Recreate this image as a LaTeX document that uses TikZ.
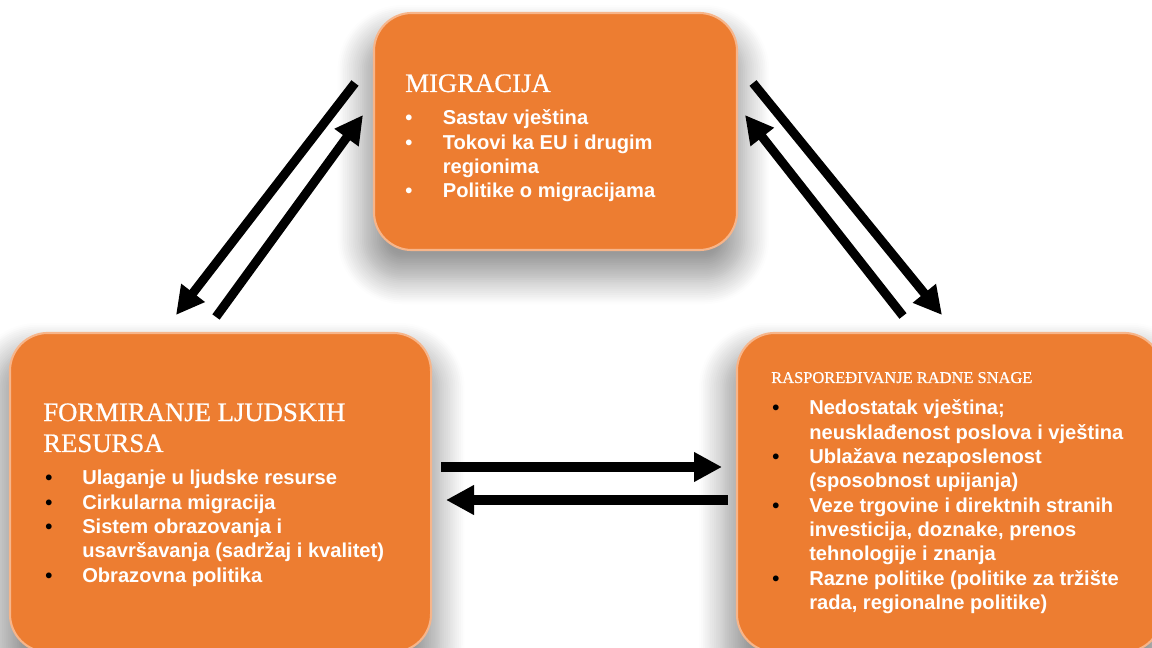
\documentclass[tikz,border=0pt]{standalone}
\usepackage{fontspec}
\setmainfont{Liberation Serif}
\setsansfont{Liberation Sans}
\newfontfamily\ttlfont{Liberation Serif}[BoldFont=Liberation Serif,BoldFeatures={FakeBold=0.7}]
\usepackage{tikz}
\usetikzlibrary{arrows.meta}
\usetikzlibrary{shadows.blur}
\definecolor{boxorange}{HTML}{ED7D31}
\definecolor{boxrim}{HTML}{F7B58A}
\tikzset{
  box/.style={
    rounded corners=0.95cm,fill=boxorange,draw=boxrim,line width=1.5pt,
    blur shadow={shadow xshift=-0.05cm,shadow yshift=-0.55cm,shadow scale=1.05,
      shadow blur radius=0.6cm,shadow blur steps=14,shadow opacity=40},
  },
  boxtitle/.style={anchor=base west,inner sep=0pt,text=white,align=left},
  items/.style={anchor=base west,inner sep=0pt,text=white,
    font=\sffamily\bfseries\fontsize{14.3}{17.3}\selectfont},
  flow/.style={line width=0.225cm,-{Triangle[length=0.7cm,width=0.7cm]}},
}
\newcommand{\dotb}{\textcolor{black}{•}}
\newcommand{\dotw}{\textcolor{white}{•}}

\begin{document}
\begin{tikzpicture}[x=0.025cm,y=-0.025cm]
  \useasboundingbox (0,0) rectangle (1152,648);
  % boxes
  \node[box,minimum width=9.075cm,minimum height=5.925cm] (mig) at (555.5,131.5) {};
  \node[box,minimum width=10.525cm,minimum height=7.975cm] (form) at (220.5,492.5) {};
  \node[box,minimum width=10.625cm,minimum height=7.975cm] (rasp) at (949.5,492.5) {};
  % titles
  \node[boxtitle,font=\ttlfont\bfseries\fontsize{19}{22}\selectfont] (migT) at (405,92) {MIGRACIJA};
  \node[boxtitle,font=\ttlfont\bfseries\fontsize{19}{22}\selectfont] (formT) at (43,452) {FORMIRANJE LJUDSKIH\\RESURSA};
  \node[boxtitle,font=\ttlfont\bfseries\fontsize{11.7}{13}\selectfont] (raspT) at (771,383) {RASPOREĐIVANJE RADNE SNAGE};
  % lists
  \node[items] (migL) at (405,125) {\begin{tabular}[t]{@{}p{0.94cm}@{}l@{}}
    \dotw & Sastav vještina\\
    \dotw & Tokovi ka EU i drugim\\
          & regionima\\
    \dotw & Politike o migracijama
  \end{tabular}};
  \node[items] (formL) at (45,485) {\begin{tabular}[t]{@{}p{0.925cm}@{}l@{}}
    \dotb & Ulaganje u ljudske resurse\\
    \dotb & Cirkularna migracija\\
    \dotb & Sistem obrazovanja i\\
          & usavršavanja (sadržaj i kvalitet)\\
    \dotb & Obrazovna politika
  \end{tabular}};
  \node[items] (raspL) at (772,415) {\begin{tabular}[t]{@{}p{0.925cm}@{}l@{}}
    \dotb & Nedostatak vještina;\\
          & neusklađenost poslova i vještina\\
    \dotb & Ublažava nezaposlenost\\
          & (sposobnost upijanja)\\
    \dotb & Veze trgovine i direktnih stranih\\
          & investicija, doznake, prenos\\
          & tehnologije i znanja\\
    \dotb & Razne politike (politike za tržište\\
          & rada, regionalne politike)
  \end{tabular}};
  % arrow ends
  \coordinate (mf1) at (355,83);
  \coordinate (mf2) at (176,315);
  \coordinate (fm1) at (216,317);
  \coordinate (fm2) at (363,115);
  \coordinate (mr1) at (753,83);
  \coordinate (mr2) at (942,315);
  \coordinate (rm1) at (903,316);
  \coordinate (rm2) at (745,115);
  \coordinate (fr1) at (441,467);
  \coordinate (fr2) at (722,467);
  \coordinate (rf1) at (728,500);
  \coordinate (rf2) at (446,500);
  % arrows
  \draw[flow] (mf1) -- (mf2);
  \draw[flow] (fm1) -- (fm2);
  \draw[flow] (mr1) -- (mr2);
  \draw[flow] (rm1) -- (rm2);
  \draw[flow] (fr1) -- (fr2);
  \draw[flow] (rf1) -- (rf2);
\end{tikzpicture}
\end{document}
